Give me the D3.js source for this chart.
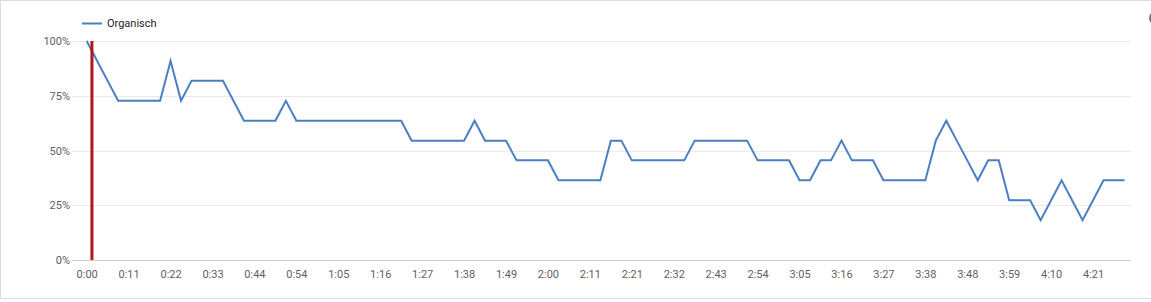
<!DOCTYPE html>
<html>
<head>
<meta charset="utf-8">
<script src="https://cdn.jsdelivr.net/npm/d3@7"></script>
<style>
  html, body { margin: 0; padding: 0; background: #fff; }
  svg { display: block; font-family: Roboto, "Noto Sans", sans-serif; }
</style>
</head>
<body>
<svg id="chart" width="1151" height="302"></svg>
<script>
// retention per 1% of the video, in percent
const retention = [
  100, 90.9, 81.8, 72.7, 72.7, 72.7, 72.7, 72.7, 90.9, 72.7,
  81.8, 81.8, 81.8, 81.8, 72.7, 63.6, 63.6, 63.6, 63.6, 72.7,
  63.6, 63.6, 63.6, 63.6, 63.6, 63.6, 63.6, 63.6, 63.6, 63.6,
  63.6, 54.5, 54.5, 54.5, 54.5, 54.5, 54.5, 63.6, 54.5, 54.5,
  54.5, 45.5, 45.5, 45.5, 45.5, 36.4, 36.4, 36.4, 36.4, 36.4,
  54.5, 54.5, 45.5, 45.5, 45.5, 45.5, 45.5, 45.5, 54.5, 54.5,
  54.5, 54.5, 54.5, 54.5, 45.5, 45.5, 45.5, 45.5, 36.4, 36.4,
  45.5, 45.5, 54.5, 45.5, 45.5, 45.5, 36.4, 36.4, 36.4, 36.4,
  36.4, 54.5, 63.6, 54.5, 45.5, 36.4, 45.5, 45.5, 27.3, 27.3,
  27.3, 18.2, 27.3, 36.4, 27.3, 18.2, 27.3, 36.4, 36.4, 36.4
];

// x axis labels, one every 4 points
const timeLabels = [
  "0:00", "0:11", "0:22", "0:33", "0:44", "0:54", "1:05", "1:16", "1:27",
  "1:38", "1:49", "2:00", "2:11", "2:21", "2:32", "2:43", "2:54", "3:05",
  "3:16", "3:27", "3:38", "3:48", "3:59", "4:10", "4:21"
];
const yTicks = [0, 25, 50, 75, 100];
const seriesName = "Organisch";
const playhead = 0.5; // red marker, in point index

const svg = d3.select("#chart");
const W = 1151, H = 302;

// frame
svg.append("rect")
  .attr("x", 0.5).attr("y", 0.5)
  .attr("width", W + 10).attr("height", H - 4)
  .attr("fill", "none").attr("stroke", "#dcdcdc");

const x = d3.scaleLinear().domain([0, retention.length - 1]).range([86.7, 1124.5]);
const y = d3.scaleLinear().domain([0, 100]).range([260, 41]);

// grid
svg.append("g")
  .selectAll("line")
  .data(yTicks)
  .join("line")
  .attr("x1", 72).attr("x2", 1131)
  .attr("y1", d => Math.round(y(d)) + 0.5)
  .attr("y2", d => Math.round(y(d)) + 0.5)
  .attr("stroke", d => d === 0 ? "#cfcfcf" : "#ebebeb");

// y labels
const yAxis = d3.axisLeft(y).tickValues(yTicks).tickSize(0).tickPadding(0)
  .tickFormat(d => d + "%");
svg.append("g")
  .attr("transform", "translate(70,0)")
  .call(yAxis)
  .call(g => g.select(".domain").remove())
  .selectAll("text")
  .attr("font-size", 11)
  .attr("font-family", "Roboto")
  .attr("fill", "#5f5f5f");

// x labels
const xAxis = d3.axisBottom(x)
  .tickValues(timeLabels.map((_, i) => i * 4))
  .tickSize(0).tickPadding(0)
  .tickFormat((d, i) => timeLabels[i]);
svg.append("g")
  .attr("transform", "translate(0,270)")
  .call(xAxis)
  .call(g => g.select(".domain").remove())
  .selectAll("text")
  .attr("font-size", 11)
  .attr("font-family", "Roboto")
  .attr("fill", "#5f5f5f");

// line
const line = d3.line()
  .x((d, i) => x(i))
  .y(d => y(d));

svg.append("path")
  .datum(retention)
  .attr("d", line)
  .attr("fill", "none")
  .attr("stroke", "#4a7fc4")
  .attr("stroke-width", 2)
  .attr("stroke-linejoin", "miter");

// playhead
svg.append("line")
  .attr("x1", x(playhead)).attr("x2", x(playhead))
  .attr("y1", y(100)).attr("y2", y(0))
  .attr("stroke", "#b0161b")
  .attr("stroke-width", 3);

// legend
const legend = svg.append("g").attr("transform", "translate(82,23)");
legend.append("line")
  .attr("x1", 0).attr("x2", 20).attr("y1", 0.5).attr("y2", 0.5)
  .attr("stroke", "#4a7fc4").attr("stroke-width", 2);
legend.append("text")
  .attr("x", 25).attr("y", 0).attr("dy", "0.35em")
  .attr("font-size", 11)
  .attr("fill", "#222")
  .text(seriesName);

// cut-off icon at the right edge
svg.append("circle")
  .attr("cx", 1156).attr("cy", 18).attr("r", 6)
  .attr("fill", "none").attr("stroke", "#777").attr("stroke-width", 2);
</script>
</body>
</html>
